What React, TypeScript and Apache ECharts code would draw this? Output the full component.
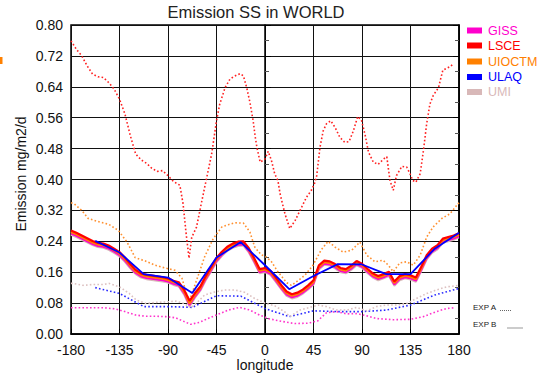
import React, { useEffect, useRef } from 'react';
import * as echarts from 'echarts';

const TITLE = 'Emission SS in WORLD';
const X_NAME = 'longitude';
const Y_NAME = 'Emission mg/m2/d';
const MODELS = ['GISS', 'LSCE', 'UIOCTM', 'ULAQ', 'UMI'];
const MODEL_COLORS = ['#ff00cc', '#ff0000', '#ff8000', '#0000ff', '#d8b8b8'];
const EXP_LABELS = ['EXP A', 'EXP B'];

// EXP B (solid) longitudes for the fine-grid models
const LON_B = [
  -180, -175, -170, -165, -160, -155, -150, -145, -140, -135, -130, -125, -120, -115, -110, -105, -100, -95, -90, -85,
  -80, -75, -70, -65, -60, -55, -50, -45, -40, -35, -30, -25, -20, -15, -10, -5, 0, 5, 10, 15,
  20, 25, 30, 35, 40, 45, 50, 55, 60, 65, 70, 75, 80, 85, 90, 95, 100, 105, 110, 115,
  120, 125, 130, 135, 140, 145, 150, 155, 160, 165, 170, 175, 180,
];
const LSCE_B = [
  0.268, 0.262, 0.255, 0.248, 0.241, 0.236, 0.234, 0.229, 0.221, 0.212, 0.198, 0.181, 0.166, 0.157, 0.153, 0.151, 0.149, 0.147, 0.144, 0.138,
  0.134, 0.114, 0.086, 0.106, 0.123, 0.150, 0.173, 0.197, 0.213, 0.226, 0.234, 0.239, 0.240, 0.222, 0.196, 0.168, 0.171, 0.164, 0.146, 0.127,
  0.110, 0.103, 0.107, 0.115, 0.126, 0.139, 0.178, 0.190, 0.188, 0.181, 0.171, 0.168, 0.177, 0.189, 0.182, 0.169, 0.157, 0.150, 0.155, 0.161,
  0.136, 0.150, 0.155, 0.152, 0.146, 0.174, 0.204, 0.221, 0.230, 0.247, 0.251, 0.255, 0.261,
];
const UIOCTM_B = [
  0.264, 0.258, 0.251, 0.244, 0.237, 0.232, 0.230, 0.225, 0.217, 0.208, 0.194, 0.177, 0.162, 0.153, 0.149, 0.147, 0.145, 0.143, 0.140, 0.134,
  0.130, 0.109, 0.079, 0.101, 0.119, 0.146, 0.169, 0.193, 0.209, 0.222, 0.230, 0.235, 0.236, 0.218, 0.192, 0.164, 0.167, 0.160, 0.142, 0.123,
  0.106, 0.099, 0.103, 0.111, 0.122, 0.135, 0.174, 0.186, 0.184, 0.177, 0.167, 0.164, 0.173, 0.185, 0.178, 0.165, 0.153, 0.146, 0.151, 0.157,
  0.132, 0.146, 0.151, 0.148, 0.142, 0.170, 0.200, 0.217, 0.226, 0.243, 0.247, 0.251, 0.257,
];
const GISS_B = [
  0.260, 0.254, 0.247, 0.240, 0.233, 0.228, 0.226, 0.221, 0.213, 0.204, 0.190, 0.173, 0.158, 0.149, 0.145, 0.143, 0.141, 0.139, 0.136, 0.130,
  0.126, 0.105, 0.075, 0.097, 0.115, 0.142, 0.165, 0.189, 0.205, 0.218, 0.226, 0.231, 0.232, 0.214, 0.188, 0.160, 0.163, 0.156, 0.138, 0.119,
  0.102, 0.095, 0.099, 0.107, 0.118, 0.131, 0.170, 0.182, 0.180, 0.173, 0.163, 0.160, 0.169, 0.181, 0.174, 0.161, 0.149, 0.142, 0.147, 0.153,
  0.128, 0.142, 0.147, 0.144, 0.138, 0.166, 0.196, 0.213, 0.222, 0.239, 0.243, 0.247, 0.253,
];
const UMI_B = [
  0.257, 0.251, 0.244, 0.237, 0.230, 0.225, 0.223, 0.218, 0.210, 0.201, 0.187, 0.170, 0.155, 0.146, 0.142, 0.140, 0.138, 0.136, 0.133, 0.127,
  0.123, 0.102, 0.071, 0.094, 0.112, 0.139, 0.162, 0.186, 0.202, 0.215, 0.223, 0.228, 0.229, 0.211, 0.185, 0.157, 0.160, 0.153, 0.135, 0.116,
  0.099, 0.092, 0.096, 0.104, 0.115, 0.128, 0.167, 0.179, 0.177, 0.170, 0.160, 0.157, 0.166, 0.178, 0.171, 0.158, 0.146, 0.139, 0.144, 0.150,
  0.125, 0.139, 0.144, 0.141, 0.135, 0.163, 0.193, 0.210, 0.219, 0.236, 0.240, 0.244, 0.250,
];
// ULAQ (coarse grid), [longitude, value]
const ULAQ_B = [
  [-157.5, 0.241], [-135, 0.211], [-112.5, 0.155], [-90, 0.146], [-67.5, 0.106], [-45, 0.198], [-22.5, 0.238], [0, 0.178],
  [22.5, 0.116], [45, 0.150], [67.5, 0.181], [90, 0.180], [112.5, 0.155], [135, 0.155], [157.5, 0.221], [180, 0.262],
];
const ULAQ_A = [
  [-157.5, 0.120], [-135, 0.105], [-112.5, 0.071], [-90, 0.071], [-67.5, 0.069], [-45, 0.099], [-22.5, 0.098], [0, 0.066],
  [22.5, 0.045], [45, 0.060], [67.5, 0.058], [90, 0.058], [112.5, 0.062], [135, 0.075], [157.5, 0.101], [180, 0.118],
];
// EXP A (dotted), [longitude, value]
const LSCE_A = [
  [-180, 0.759], [-175, 0.737], [-170, 0.720], [-165, 0.694], [-160, 0.673], [-155, 0.666], [-150, 0.664], [-145, 0.651],
  [-140, 0.634], [-135, 0.608], [-130, 0.570], [-125, 0.514], [-120, 0.466], [-115, 0.451], [-110, 0.442], [-105, 0.429],
  [-100, 0.421], [-95, 0.423], [-90, 0.410], [-85, 0.395], [-79, 0.385], [-76, 0.337], [-73.5, 0.268], [-70.5, 0.196],
  [-68, 0.25], [-63.5, 0.277], [-58.5, 0.346], [-54, 0.406], [-49.5, 0.466], [-45, 0.552], [-42, 0.595], [-37, 0.638],
  [-32.5, 0.660], [-28, 0.668], [-23, 0.674], [-20, 0.668], [-17, 0.638], [-14, 0.600], [-11, 0.552], [-9, 0.509],
  [-7.5, 0.483], [-4.5, 0.445], [-2, 0.449], [0, 0.453], [3, 0.473], [6, 0.449], [9, 0.415], [12, 0.397],
  [14, 0.363], [18.5, 0.311], [23, 0.273], [28, 0.294], [32.5, 0.320], [38.5, 0.354], [43, 0.372], [46, 0.39],
  [48, 0.41], [51, 0.483], [54, 0.526], [57, 0.544], [61, 0.552], [65, 0.535], [69.5, 0.509], [74, 0.496],
  [78, 0.498], [82, 0.526], [86, 0.563], [89.5, 0.554], [93, 0.514], [96, 0.471], [100.5, 0.445], [105, 0.439],
  [110, 0.453], [113, 0.459], [114.5, 0.428], [116, 0.397], [119, 0.372], [122, 0.410], [127, 0.434], [131.5, 0.432],
  [134.5, 0.415], [137, 0.398], [140, 0.393], [144, 0.415], [147, 0.475], [150, 0.544], [153, 0.595], [156, 0.617],
  [161, 0.638], [165, 0.683], [168.5, 0.688], [171.5, 0.692], [175, 0.700],
];
const UIOCTM_A = [
  [-180, 0.340], [-177, 0.337], [-170, 0.320], [-164, 0.299], [-156, 0.292], [-145, 0.284], [-136, 0.268], [-128, 0.238],
  [-120.5, 0.198], [-111, 0.189], [-102, 0.178], [-93, 0.171], [-83.5, 0.165], [-77, 0.144], [-70.5, 0.083], [-63.5, 0.139],
  [-56, 0.200], [-48, 0.247], [-40, 0.277], [-34, 0.283], [-28, 0.288], [-20, 0.287], [-14, 0.264], [-9.5, 0.225],
  [-3.5, 0.205], [1, 0.200], [6, 0.187], [12, 0.161], [20, 0.133], [24.5, 0.126], [31, 0.139], [37, 0.152],
  [44.5, 0.178], [52, 0.217], [58.5, 0.240], [65, 0.225], [72.5, 0.212], [80.5, 0.217], [88, 0.238], [94.5, 0.204],
  [102, 0.187], [109.5, 0.191], [114.5, 0.178], [119, 0.161], [125, 0.184], [131.5, 0.187], [137.5, 0.178], [144, 0.204],
  [150, 0.251], [156, 0.277], [164, 0.299], [171.5, 0.311], [180, 0.340],
];
const UMI_A = [
  [-180, 0.131], [-178, 0.131], [-169, 0.126], [-160, 0.128], [-150.5, 0.128], [-144.5, 0.131], [-135, 0.122], [-126, 0.105],
  [-119.5, 0.088], [-110.5, 0.079], [-101, 0.082], [-92, 0.083], [-82.5, 0.085], [-75, 0.079], [-68.5, 0.068], [-62.5, 0.083],
  [-56, 0.101], [-46.5, 0.109], [-37.5, 0.114], [-28, 0.114], [-19, 0.108], [-9.5, 0.092], [0, 0.080], [9, 0.073],
  [18, 0.058], [23, 0.045], [32.5, 0.062], [41.5, 0.069], [49.5, 0.075], [57, 0.071], [66.5, 0.062], [76, 0.062],
  [85, 0.069], [94.5, 0.060], [103.5, 0.071], [113, 0.075], [122, 0.075], [131.5, 0.079], [140.5, 0.092], [150, 0.105],
  [159, 0.114], [168.5, 0.122], [180, 0.126],
];
const GISS_A = [
  [-180, 0.068], [-170, 0.068], [-160, 0.068], [-150, 0.068], [-139, 0.065], [-130, 0.058], [-120, 0.049], [-111, 0.046],
  [-101, 0.046], [-92, 0.045], [-83, 0.042], [-76.5, 0.034], [-69, 0.025], [-61, 0.030], [-53, 0.040], [-43.5, 0.051],
  [-34, 0.062], [-23.5, 0.069], [-14, 0.062], [-5, 0.049], [4.5, 0.039], [15, 0.033], [27.5, 0.027], [40, 0.028],
  [49, 0.034], [52, 0.042], [57, 0.055], [66.5, 0.058], [76, 0.052], [85, 0.053], [94.5, 0.047], [103.5, 0.040],
  [119, 0.037], [134.5, 0.038], [147, 0.045], [159, 0.058], [168.5, 0.066], [176, 0.068],
];

const FONT = 'Liberation Sans, Arial, sans-serif';

function solid(name: string, data: any[], color: string, width: number) {
  return {
    name, type: 'line', data, showSymbol: false, symbol: 'none', silent: true,
    lineStyle: { color, width, type: 'solid' }, z: 3,
  };
}
function dotted(name: string, data: any[], color: string) {
  return {
    name, type: 'line', data, showSymbol: false, symbol: 'none', silent: true,
    lineStyle: { color, width: 1.6, type: [1.6, 2.2], cap: 'butt' }, z: 2,
  };
}

export default function App() {
  const ref = useRef<HTMLDivElement>(null);
  useEffect(() => {
    if (!ref.current) return;
    const chart = echarts.init(ref.current, null, { renderer: 'svg' });
    const zipB = (vals: number[]) => LON_B.map((x, i) => [x, vals[i]]);

    const legendY = [30.5, 45.5, 61.5, 77, 92];
    const graphic: any[] = [];
    MODELS.forEach((m, i) => {
      graphic.push({ type: 'rect', shape: { x: 467, y: legendY[i] - 3, width: 15, height: 6 }, style: { fill: MODEL_COLORS[i] } });
      graphic.push({
        type: 'text', x: 488, y: legendY[i],
        style: { text: m, fill: MODEL_COLORS[i], font: `12.5px ${FONT}`, textVerticalAlign: 'middle' },
      });
    });
    graphic.push({ type: 'text', x: 473, y: 307, style: { text: EXP_LABELS[0], fill: '#222', font: `8px ${FONT}`, textVerticalAlign: 'middle' } });
    graphic.push({ type: 'line', shape: { x1: 500, y1: 310.5, x2: 511, y2: 310.5 }, style: { stroke: '#666', lineWidth: 1, lineDash: [1, 1] } });
    graphic.push({ type: 'text', x: 473, y: 324, style: { text: EXP_LABELS[1], fill: '#222', font: `8px ${FONT}`, textVerticalAlign: 'middle' } });
    graphic.push({ type: 'line', shape: { x1: 507, y1: 328, x2: 523, y2: 328 }, style: { stroke: '#999', lineWidth: 1 } });
    graphic.push({ type: 'rect', shape: { x: 0, y: 57, width: 2.5, height: 7 }, style: { fill: '#ff8000' } });
    graphic.push({ type: 'text', x: 265, y: 365, style: { text: X_NAME, fill: '#111', font: `14px ${FONT}`, textAlign: 'center', textVerticalAlign: 'middle' } });
    graphic.push({ type: 'text', x: 21, y: 174, rotation: Math.PI / 2, style: { text: Y_NAME, fill: '#111', font: `14px ${FONT}`, textAlign: 'center', textVerticalAlign: 'middle' } });
    graphic.push({ type: 'text', x: 256, y: 12, style: { text: TITLE, fill: '#222', font: `16.5px ${FONT}`, textAlign: 'center', textVerticalAlign: 'middle' } });

    const yBase = {
      type: 'value', min: 0, max: 0.8, interval: 0.08,
      axisLine: { show: true, lineStyle: { color: '#000', width: 1.5 } },
      minorTick: { show: true, splitNumber: 2, length: 4, lineStyle: { color: '#555' } },
    };

    chart.setOption({
      animation: false,
      backgroundColor: '#fff',
      grid: { left: 71, right: 82, top: 25, bottom: 44, show: true, borderColor: '#000', borderWidth: 1.5, backgroundColor: 'transparent' },
      xAxis: {
        type: 'value', min: -180, max: 180, interval: 45,
        axisLine: { show: true, onZero: false, lineStyle: { color: '#000', width: 1.5 } },
        axisTick: { show: true, inside: true, length: 5, lineStyle: { color: '#000' } },
        axisLabel: { color: '#111', fontSize: 14, fontFamily: FONT, margin: 9, formatter: (v: number) => String(v) },
        splitLine: { show: true, lineStyle: { color: '#111', width: 1 } },
      },
      yAxis: [
        {
          ...yBase,
          axisTick: { show: true, inside: true, length: 6, lineStyle: { color: '#000' } },
          axisLabel: { color: '#111', fontSize: 14, fontFamily: FONT, margin: 8, formatter: (v: number) => v.toFixed(2) },
          splitLine: { show: true, lineStyle: { color: '#111', width: 1 } },
        },
        {
          ...yBase, position: 'right',
          axisTick: { show: true, inside: true, length: 6, lineStyle: { color: '#000' } },
          axisLabel: { show: false },
          splitLine: { show: false },
        },
      ],
      graphic,
      series: [
        dotted('GISS A', GISS_A, '#ff33cc'),
        dotted('ULAQ A', ULAQ_A, '#2a2aff'),
        dotted('UMI A', UMI_A, '#dcc0c0'),
        dotted('UIOCTM A', UIOCTM_A, '#ff9030'),
        dotted('LSCE A', LSCE_A, '#ff2020'),
        solid('UMI B', zipB(UMI_B), '#d8b8b8', 2),
        solid('GISS B', zipB(GISS_B), '#ff00cc', 2),
        solid('UIOCTM B', zipB(UIOCTM_B), '#ff8000', 2.2),
        solid('LSCE B', zipB(LSCE_B), '#ff0000', 2.2),
        solid('ULAQ B', ULAQ_B, '#0000ff', 1.8),
      ],
    });
    return () => chart.dispose();
  }, []);
  return <div ref={ref} style={{ position: 'fixed', left: 0, top: 0, width: 541, height: 378 }} />;
}
